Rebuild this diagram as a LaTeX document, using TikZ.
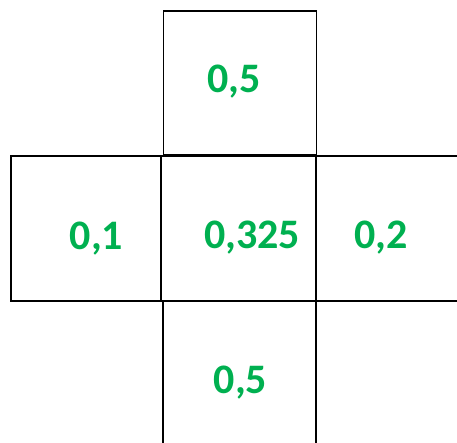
\documentclass[tikz,border=0pt]{standalone}
\usepackage{fontspec}
\setmainfont{Carlito}
\usepackage{xcolor}
\definecolor{cellgreen}{HTML}{00B050}
\tikzset{
  cell/.style={
    draw,
    line width=1.8pt
  },
  val/.style={
    anchor=base,
    inner sep=0pt,
    text=cellgreen,
    font=\fontsize{42}{42}\selectfont\bfseries
  }
}
\begin{document}
\begin{tikzpicture}[x=1pt,y=-1pt]
        \useasboundingbox (0,0) rectangle (457,442);
        \clip (0,0) rectangle (457,442);

        % cells of the cross
        \draw[cell] (163.5,11) rectangle (316.5,155);
        \draw[cell] (11,156) rectangle (161,301);
        \draw[cell] (161,156) rectangle (316,301);
        \draw[cell] (316,156) rectangle (480,301);
        \draw[cell] (163,301) rectangle (316,480);

        % values
        \node[val] (top) at (234,92) {0,5};
        \node[val] (left) at (96.5,249) {0,1};
        \node[val] (mid) at (252,248) {0,325};
        \node[val] (right) at (381,248) {0,2};
        \node[val] (bottom) at (240.5,393) {0,5};
\end{tikzpicture}
\end{document}
